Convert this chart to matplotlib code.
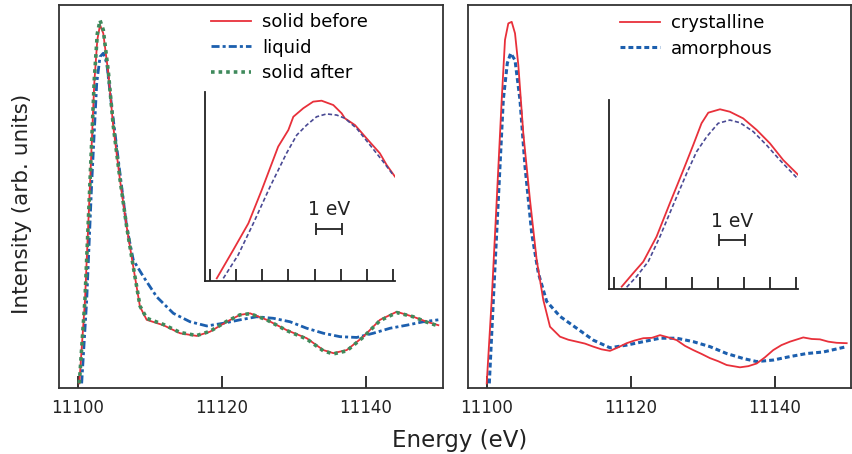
#!/usr/bin/env python3
import matplotlib

matplotlib.use("Agg")
import matplotlib.pyplot as plt

# ---- left panel: main spectra (energy in eV, intensity normalised) ----
before_e = [11100.18, 11100.97, 11101.67, 11102.26, 11102.68, 11103.06, 11103.51, 11104.21,
            11104.90, 11105.83, 11106.76, 11107.68, 11108.61, 11109.54, 11111.85, 11114.17,
            11116.49, 11118.33, 11120.65, 11122.50, 11123.89, 11126.21, 11128.99, 11131.76,
            11134.07, 11135.46, 11137.32, 11139.63, 11141.94, 11144.26, 11146.57, 11148.43,
            11150.04]
before_i = [0.012, 0.230, 0.535, 0.796, 0.909, 0.948, 0.926, 0.822,
            0.682, 0.543, 0.421, 0.316, 0.212, 0.178, 0.164, 0.143,
            0.136, 0.147, 0.173, 0.191, 0.195, 0.178, 0.151, 0.130,
            0.099, 0.091, 0.099, 0.134, 0.178, 0.199, 0.186, 0.173,
            0.164]

after_e = before_e
after_i = [0.012, 0.232, 0.540, 0.805, 0.925, 0.960, 0.935, 0.826,
           0.684, 0.545, 0.421, 0.316, 0.214, 0.182, 0.166, 0.145,
           0.137, 0.148, 0.174, 0.191, 0.194, 0.178, 0.150, 0.128,
           0.097, 0.089, 0.097, 0.133, 0.176, 0.197, 0.186, 0.172,
           0.162]

liquid_e = [11100.51, 11101.21, 11101.90, 11102.60, 11103.06, 11103.51, 11103.99, 11104.68,
            11105.60, 11106.76, 11107.68, 11109.07, 11110.93, 11113.24, 11115.56, 11117.88,
            11120.18, 11122.50, 11124.82, 11127.13, 11129.44, 11131.76, 11134.07, 11136.39,
            11138.71, 11141.01, 11143.33, 11145.65, 11147.96, 11150.04]
liquid_i = [0.012, 0.230, 0.534, 0.796, 0.865, 0.874, 0.848, 0.734,
            0.595, 0.421, 0.334, 0.291, 0.238, 0.195, 0.173, 0.162,
            0.169, 0.178, 0.186, 0.182, 0.173, 0.156, 0.143, 0.134,
            0.132, 0.143, 0.156, 0.164, 0.173, 0.178]

# ---- right panel: main spectra ----
cryst_e = [11099.96, 11100.65, 11101.35, 11102.04, 11102.50, 11102.96, 11103.43, 11103.89,
           11104.35, 11105.04, 11105.97, 11106.90, 11107.82, 11108.75, 11110.14, 11111.30,
           11112.46, 11113.60, 11114.76, 11115.90, 11117.08, 11118.20, 11119.40, 11120.50,
           11121.71, 11122.90, 11124.03, 11125.20, 11126.35, 11127.50, 11128.65, 11129.80,
           11130.97, 11132.10, 11133.29, 11135.14, 11136.30, 11137.46, 11138.60, 11139.76,
           11140.90, 11142.08, 11143.93, 11145.10, 11146.25, 11147.40, 11148.57, 11149.96]
cryst_i = [0.012, 0.230, 0.491, 0.752, 0.909, 0.952, 0.956, 0.926,
           0.843, 0.665, 0.491, 0.334, 0.230, 0.160, 0.134, 0.126,
           0.121, 0.116, 0.108, 0.101, 0.097, 0.106, 0.117, 0.124,
           0.130, 0.131, 0.138, 0.132, 0.125, 0.110, 0.099, 0.089,
           0.078, 0.070, 0.060, 0.054, 0.057, 0.064, 0.080, 0.099,
           0.112, 0.121, 0.132, 0.128, 0.127, 0.121, 0.118, 0.117]

amorph_e = [11100.32, 11100.88, 11101.57, 11102.26, 11102.82, 11103.29, 11103.89, 11104.58,
            11105.28, 11106.21, 11107.13, 11108.29, 11110.14, 11112.46, 11114.76, 11117.08,
            11119.40, 11121.71, 11124.03, 11126.35, 11128.65, 11130.97, 11133.29, 11135.60,
            11137.46, 11139.76, 11142.08, 11144.40, 11146.71, 11149.96]
amorph_i = [0.012, 0.230, 0.491, 0.752, 0.848, 0.874, 0.856, 0.752,
            0.578, 0.404, 0.300, 0.226, 0.187, 0.156, 0.125, 0.105,
            0.112, 0.121, 0.130, 0.130, 0.121, 0.108, 0.090, 0.077,
            0.069, 0.073, 0.082, 0.090, 0.094, 0.108]

# ---- insets (x in eV steps, y normalised) ----
inL_red_x = [0.26, 0.89, 1.47, 1.98, 2.61, 3.00, 3.19, 3.57, 3.95, 4.27, 4.72, 5.04, 5.16,
             5.55, 5.99, 6.50, 6.76, 7.08]
inL_red_y = [0.014, 0.164, 0.305, 0.481, 0.711, 0.799, 0.869, 0.914, 0.949, 0.954, 0.931,
             0.887, 0.861, 0.825, 0.755, 0.676, 0.614, 0.552]
inL_blue_x = [0.51, 1.08, 1.66, 2.30, 2.93, 3.32, 3.70, 4.08, 4.46, 4.85, 5.16, 5.61, 6.12,
              6.63, 7.01]
inL_blue_y = [0.014, 0.138, 0.305, 0.499, 0.676, 0.772, 0.825, 0.869, 0.884, 0.878, 0.861,
              0.808, 0.720, 0.631, 0.561]

inR_red_x = [0.30, 0.74, 1.13, 1.64, 2.15, 2.67, 3.05, 3.37, 3.63, 4.08, 4.46, 4.97, 5.49,
             6.00, 6.51, 7.09]
inR_red_y = [0.014, 0.085, 0.146, 0.278, 0.454, 0.630, 0.762, 0.877, 0.933, 0.951, 0.938,
             0.903, 0.842, 0.771, 0.683, 0.604]
inR_blue_x = [0.49, 0.87, 1.32, 1.77, 2.28, 2.80, 3.18, 3.57, 4.01, 4.46, 4.85, 5.36, 5.87,
              6.38, 7.09]
inR_blue_y = [0.011, 0.067, 0.146, 0.278, 0.445, 0.613, 0.727, 0.806, 0.877, 0.894, 0.880,
              0.833, 0.762, 0.683, 0.581]

main_ticks = [11100, 11120, 11140]
inset_ticks = list(range(8))

RED = "#e8303a"
BLUE = "#1c5fae"
GREEN = "#3f8a5c"
SLATE = "#4a4a94"
FRAME = "#333333"
INK = "#222222"

plt.rcParams.update({"font.family": ["DejaVu Sans"], "font.size": 12})

fig = plt.figure(figsize=(8.52, 4.54), dpi=100)
axL = fig.add_axes([59 / 852, 1 - 388 / 454, 384 / 852, 383 / 454])
axR = fig.add_axes([468 / 852, 1 - 388 / 454, 383 / 852, 383 / 454])


def style_main(ax, xmax):
    ax.set_xlim(11097.36, xmax)
    ax.set_ylim(0, 1)
    ax.set_xticks(main_ticks)
    ax.set_xticklabels([str(t) for t in main_ticks])
    ax.set_yticks([])
    ax.tick_params(axis="x", direction="in", length=8.5, width=1.3, pad=8,
                   labelsize=12, colors=INK)
    for s in ax.spines.values():
        s.set_color(FRAME)
        s.set_linewidth(1.3)


legend_kw = dict(loc="upper left", frameon=False, borderpad=0, borderaxespad=0,
                 handlelength=2.25, handletextpad=0.6, labelspacing=0.42, fontsize=13)

axL.plot(before_e, before_i, color=RED, lw=1.3, label="solid before", zorder=3)
axL.plot(liquid_e, liquid_i, color=BLUE, lw=2.0, ls=(0, (2.9, 1.1, 1.1, 1.1)),
         label="liquid", zorder=2)
axL.plot(after_e, after_i, color=GREEN, lw=2.6, ls=(0, (1, 1.1)), label="solid after", zorder=4)
style_main(axL, 11150.69)
axL.legend(bbox_to_anchor=(0.395, 0.979), **legend_kw)

axR.plot(cryst_e, cryst_i, color=RED, lw=1.3, label="crystalline", zorder=3)
axR.plot(amorph_e, amorph_i, color=BLUE, lw=2.2, ls=(0, (1.6, 1.0)), label="amorphous", zorder=2)
style_main(axR, 11150.56)
axR.legend(bbox_to_anchor=(0.396, 0.976), **legend_kw)


def make_inset(rect, xl, rx, ry, bx, by, bar_y, txt_y):
    ax = fig.add_axes(rect)
    ax.plot(rx, ry, color=RED, lw=1.3)
    ax.plot(bx, by, color=SLATE, lw=1.2, ls=(0, (2.5, 1.5)))
    ax.set_xlim(*xl)
    ax.set_ylim(0, 1)
    ax.patch.set_alpha(0)
    for side in ("top", "right"):
        ax.spines[side].set_visible(False)
    for side in ("left", "bottom"):
        ax.spines[side].set_color(INK)
        ax.spines[side].set_linewidth(1.3)
    ax.set_xticks(inset_ticks)
    ax.set_xticklabels([])
    ax.set_yticks([])
    ax.tick_params(axis="x", direction="in", length=8.5, width=1.3, colors=INK)
    ax.errorbar([4.55], [bar_y], xerr=[0.5], color=INK, lw=1.3, capsize=4, capthick=1.3)
    ax.text(4.55, txt_y, "1 eV", ha="center", va="center", fontsize=13.5, color=INK)
    return ax


make_inset([205 / 852, 1 - 281 / 454, 190 / 852, 189 / 454], (-0.19, 7.08),
           inL_red_x, inL_red_y, inL_blue_x, inL_blue_y, 0.275, 0.378)
make_inset([608.7 / 852, 1 - 289.3 / 454, 189.3 / 852, 189.3 / 454], (-0.2, 7.08),
           inR_red_x, inR_red_y, inR_blue_x, inR_blue_y, 0.26, 0.357)

fig.text(22 / 852, 1 - 204 / 454, "Intensity (arb. units)", rotation=90, ha="center",
         va="center", fontsize=15.5, color=INK)
fig.text(460 / 852, 1 - 441 / 454, "Energy (eV)", ha="center", va="center", fontsize=16.5,
         color=INK)

fig.savefig("out.png", dpi=100)
